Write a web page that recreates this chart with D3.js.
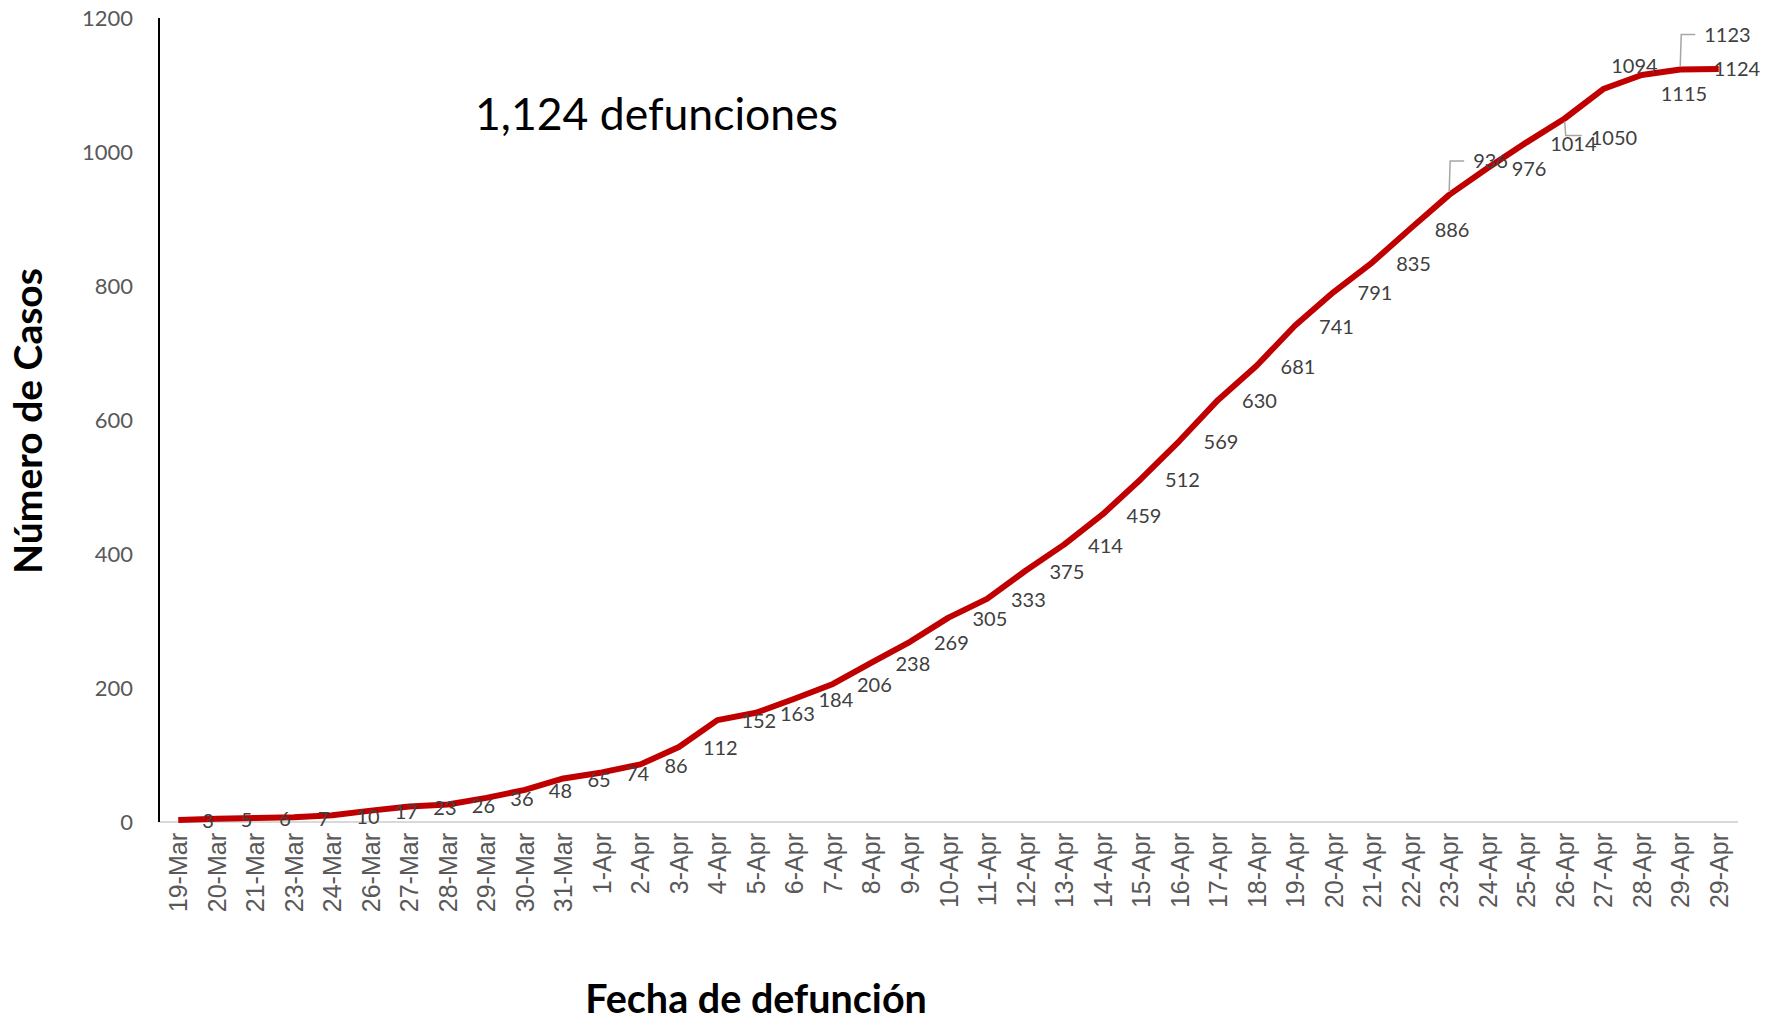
<!DOCTYPE html>
<html>
<head>
<meta charset="utf-8">
<script src="https://cdn.jsdelivr.net/npm/d3@7"></script>
<style>
  html, body { margin: 0; padding: 0; background: #fff; }
  svg { display: block; }
</style>
</head>
<body>
<div id="chart"></div>
<script>
// data
const fechas = ["19-Mar","20-Mar","21-Mar","23-Mar","24-Mar","26-Mar","27-Mar","28-Mar","29-Mar","30-Mar","31-Mar",
  "1-Apr","2-Apr","3-Apr","4-Apr","5-Apr","6-Apr","7-Apr","8-Apr","9-Apr","10-Apr","11-Apr","12-Apr","13-Apr",
  "14-Apr","15-Apr","16-Apr","17-Apr","18-Apr","19-Apr","20-Apr","21-Apr","22-Apr","23-Apr","24-Apr","25-Apr",
  "26-Apr","27-Apr","28-Apr","29-Apr","29-Apr"];
const casos = [3,5,6,7,10,17,23,26,36,48,65,74,86,112,152,163,184,206,238,269,305,333,375,414,459,512,569,630,
  681,741,791,835,886,936,976,1014,1050,1094,1115,1123,1124];
const yTicks = [0,200,400,600,800,1000,1200];
const titulo = "1,124 defunciones";

// labels moved by hand (dx = left edge from point, dy = centre from point, lead = leader line)
const nudges = {
  33: {dx: 24, dy: -34, lead: true},
  36: {dx: 26, dy: 19, lead: true},
  37: {dx: 8, dy: -23},
  38: {dx: 19, dy: 19},
  39: {dx: 24, dy: -35, lead: true},
  40: {dx: -5, dy: 0}
};

const W = 1770, H = 1021;
const mLeft = 159, mRight = 1738, mTop = 18, mBottom = 822;

const svg = d3.select("#chart").append("svg")
  .attr("width", W).attr("height", H);

const idx = d3.range(fechas.length);
const x = d3.scaleBand().domain(idx).range([mLeft, mRight]);
const cx = i => x(i) + x.bandwidth() / 2;
const y = d3.scaleLinear().domain([0, 1200]).range([mBottom, mTop]);

// x axis (gray baseline)
svg.append("line")
  .attr("x1", mLeft).attr("x2", mRight)
  .attr("y1", y(0)).attr("y2", y(0))
  .attr("stroke", "#d9d9d9").attr("stroke-width", 2);

const xAxis = svg.append("g")
  .attr("transform", `translate(0,${mBottom})`)
  .call(d3.axisBottom(x).tickSize(0).tickFormat(i => fechas[i]));
xAxis.select(".domain").remove();
xAxis.selectAll("text")
  .attr("transform", "rotate(-90)")
  .attr("x", -11).attr("y", 0).attr("dy", "0.36em")
  .style("text-anchor", "end")
  .style("font-family", "'Liberation Sans', Arial, sans-serif")
  .style("font-size", "25px")
  .attr("fill", "#595959");

// y axis
const yAxis = svg.append("g")
  .attr("transform", `translate(${mLeft},0)`)
  .call(d3.axisLeft(y).tickValues(yTicks).tickSize(0).tickPadding(26).tickFormat(d3.format("d")));
yAxis.select(".domain").remove();
yAxis.selectAll("text")
  .style("font-family", "Lato, 'Open Sans', sans-serif")
  .style("font-size", "22px")
  .attr("fill", "#595959");

svg.append("line")
  .attr("x1", mLeft).attr("x2", mLeft)
  .attr("y1", y(1200)).attr("y2", y(0))
  .attr("stroke", "#000").attr("stroke-width", 2);

// line
const line = d3.line().x((d, i) => cx(i)).y(d => y(d));
svg.append("path")
  .datum(casos)
  .attr("d", line)
  .attr("fill", "none")
  .attr("stroke", "#c00000")
  .attr("stroke-width", 6)
  .attr("stroke-linejoin", "round");

// leader lines
idx.filter(i => nudges[i] && nudges[i].lead).forEach(i => {
  const n = nudges[i];
  const px = cx(i), py = y(casos[i]), ly = py + n.dy - (n.dy > 0 ? 2 : 0);
  svg.append("polyline")
    .attr("points", [[px, py + (n.dy < 0 ? -3 : 3)], [px + 1, ly], [px + n.dx - 9, ly]].join(" "))
    .attr("fill", "none")
    .attr("stroke", "#a6a6a6")
    .attr("stroke-width", 1.5);
});

// data labels, to the right of each point
svg.append("g").selectAll("text")
  .data(casos)
  .enter()
  .append("text")
  .attr("x", (d, i) => cx(i) + (nudges[i] ? nudges[i].dx : 24))
  .attr("y", (d, i) => y(d) + (nudges[i] ? nudges[i].dy : 1))
  .attr("dy", "0.36em")
  .style("font-family", "Lato, 'Open Sans', sans-serif")
  .style("font-size", "20px")
  .attr("fill", "#404040")
  .text(d => d);

// texts
svg.append("text")
  .attr("x", 475).attr("y", 130)
  .style("font-family", "Lato, 'Open Sans', sans-serif")
  .style("font-size", "44.5px")
  .attr("fill", "#000")
  .text(titulo);

svg.append("text")
  .attr("transform", "translate(42,421) rotate(-90)")
  .attr("text-anchor", "middle")
  .style("font-family", "Lato, 'Open Sans', sans-serif")
  .style("font-size", "39px")
  .style("font-weight", "bold")
  .attr("fill", "#000")
  .text("Número de Casos");

svg.append("text")
  .attr("x", 756).attr("y", 1013)
  .attr("text-anchor", "middle")
  .style("font-family", "Lato, 'Open Sans', sans-serif")
  .style("font-size", "39.5px")
  .style("font-weight", "bold")
  .attr("fill", "#000")
  .text("Fecha de defunción");
</script>
</body>
</html>
